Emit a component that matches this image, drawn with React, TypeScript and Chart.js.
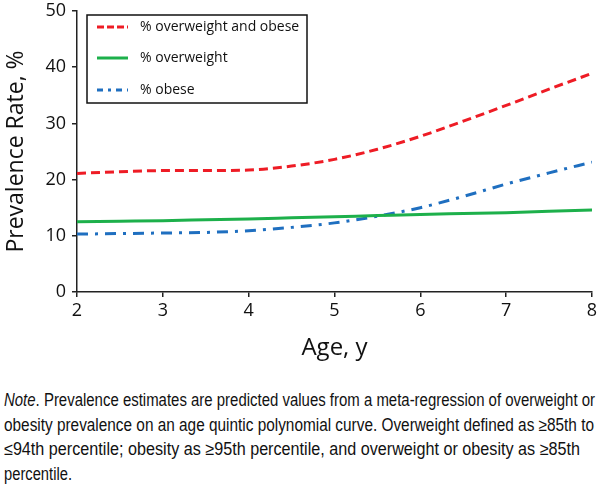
import React, { useEffect, useRef } from "react";
import { Chart, registerables } from "chart.js";

Chart.register(...registerables);

const ages = [2, 2.5, 3, 3.5, 4, 4.5, 5, 5.5, 6, 6.5, 7, 7.5, 8];
const overweightAndObese = [21.1, 21.4, 21.6, 21.6, 21.7, 22.4, 23.6, 25.4, 27.7, 30.4, 33.2, 36.1, 38.9];
const overweight = [12.5, 12.6, 12.7, 12.85, 13.0, 13.2, 13.4, 13.6, 13.8, 13.95, 14.1, 14.35, 14.6];
const obese = [10.3, 10.4, 10.5, 10.6, 10.9, 11.5, 12.3, 13.5, 15.0, 17.0, 19.2, 21.2, 23.1];
const seriesLabels = ["% overweight and obese", "% overweight", "% obese"];
const xTicks = [2, 3, 4, 5, 6, 7, 8];
const yTicks = [0, 10, 20, 30, 40, 50];
const noteLineWidths = [591, 590, 576, 68];

const RED = "#ee1c25";
const GREEN = "#1db04b";
const BLUE = "#1f6fc0";
const FONT = "'Open Sans', 'DejaVu Sans', sans-serif";

const legendPlugin = {
  id: "boxLegend",
  afterDraw(chart: any) {
    const ctx = chart.ctx;
    const ca = chart.chartArea;
    const bx = ca.left + 10;
    const by = ca.top + 4;
    const bw = 220;
    const bh = 88;
    ctx.save();
    ctx.fillStyle = "#fff";
    ctx.fillRect(bx, by, bw, bh);
    ctx.strokeStyle = "#111";
    ctx.lineWidth = 1.5;
    ctx.strokeRect(bx, by, bw, bh);
    const rows = [12, 43, 75];
    const dashes = [[7, 3], [], [6, 5, 3, 5]];
    const colors = [RED, GREEN, BLUE];
    chart.data.datasets.forEach((ds: any, i: number) => {
      const y = by + rows[i];
      ctx.beginPath();
      ctx.setLineDash(dashes[i]);
      ctx.strokeStyle = colors[i];
      ctx.lineWidth = 3;
      ctx.moveTo(bx + 10, y);
      ctx.lineTo(bx + 41, y);
      ctx.stroke();
      ctx.setLineDash([]);
      ctx.fillStyle = "#111";
      ctx.font = `14px ${FONT}`;
      ctx.textBaseline = "middle";
      ctx.textAlign = "left";
      ctx.fillText(ds.label, bx + 53, y);
    });
    ctx.restore();
  },
};

export default function App() {
  const ref = useRef<HTMLCanvasElement>(null);
  const lineRefs = useRef<(HTMLSpanElement | null)[]>([]);

  useEffect(() => {
    lineRefs.current.forEach((el, i) => {
      if (!el) return;
      const w = el.getBoundingClientRect().width;
      if (w > 0) el.style.transform = `scaleX(${noteLineWidths[i] / w})`;
    });
  }, []);

  useEffect(() => {
    if (!ref.current) return;
    const mk = (vals: number[]) => ages.map((a, i) => ({ x: a, y: vals[i] }));
    const chart = new Chart(ref.current, {
      type: "line",
      data: {
        datasets: [
          { label: seriesLabels[0], data: mk(overweightAndObese), borderColor: RED, borderWidth: 3, borderDash: [9, 5] },
          { label: seriesLabels[1], data: mk(overweight), borderColor: GREEN, borderWidth: 3 },
          { label: seriesLabels[2], data: mk(obese), borderColor: BLUE, borderWidth: 3, borderDash: [11, 7, 3, 7] },
        ],
      },
      options: {
        animation: false,
        responsive: false,
        maintainAspectRatio: false,
        layout: { padding: { top: 11, right: 9, left: 0, bottom: 0 } },
        elements: { point: { radius: 0 }, line: { tension: 0.4, cubicInterpolationMode: "monotone" } },
        plugins: { legend: { display: false }, tooltip: { enabled: false } },
        scales: {
          x: {
            type: "linear",
            min: 2,
            max: 8,
            afterBuildTicks: (s: any) => { s.ticks = xTicks.map((v) => ({ value: v })); },
            afterFit: (s: any) => { s.height = 71; s.paddingLeft = 0; s.paddingRight = 0; },
            border: { color: "#222", width: 1.5 },
            grid: { drawOnChartArea: false, drawTicks: true, tickLength: 5, color: "#222", lineWidth: 1.5 },
            ticks: { color: "#111", font: { family: FONT, size: 18 }, padding: 3, maxRotation: 0 },
            title: { display: true, text: "Age, y", color: "#111", font: { family: FONT, size: 24 }, padding: { top: 0, bottom: 0 } },
          },
          y: {
            min: 0,
            max: 50,
            afterBuildTicks: (s: any) => { s.ticks = yTicks.map((v) => ({ value: v })); },
            afterFit: (s: any) => { s.width = 77; s.paddingTop = 0; s.paddingBottom = 0; },
            border: { color: "#222", width: 1.5 },
            grid: { drawOnChartArea: false, drawTicks: true, tickLength: 5, color: "#222", lineWidth: 1.5 },
            ticks: { color: "#111", font: { family: FONT, size: 18 }, padding: 6 },
            title: { display: true, text: "Prevalence Rate, %", color: "#111", font: { family: FONT, size: 23 }, padding: { top: 3, bottom: 0 } },
          },
        },
      },
      plugins: [legendPlugin],
    } as any);
    return () => chart.destroy();
  }, []);

  const noteStyle: React.CSSProperties = {
    position: "absolute",
    left: 4,
    top: 388,
    fontFamily: "'Liberation Sans', Arial, sans-serif",
    fontSize: 17.5,
    lineHeight: "24.5px",
    color: "#111",
    whiteSpace: "nowrap",
  };
  const lineStyle: React.CSSProperties = { display: "inline-block", transformOrigin: "0 0" };
  const lines: React.ReactNode[] = [
    <><i>Note</i>. Prevalence estimates are predicted values from a meta-regression of overweight or</>,
    <>obesity prevalence on an age quintic polynomial curve. Overweight defined as ≥85th to</>,
    <>≤94th percentile; obesity as ≥95th percentile, and overweight or obesity as ≥85th</>,
    <>percentile.</>,
  ];

  return (
    <div style={{ position: "absolute", left: 0, top: 0, width: 601, height: 489, background: "#fff", overflow: "hidden" }}>
      <canvas ref={ref} width={601} height={363} style={{ position: "absolute", left: 0, top: 0 }} />
      <div style={noteStyle}>
        {lines.map((l, i) => (
          <div key={i}>
            <span ref={(el) => { lineRefs.current[i] = el; }} style={lineStyle}>{l}</span>
          </div>
        ))}
      </div>
    </div>
  );
}
